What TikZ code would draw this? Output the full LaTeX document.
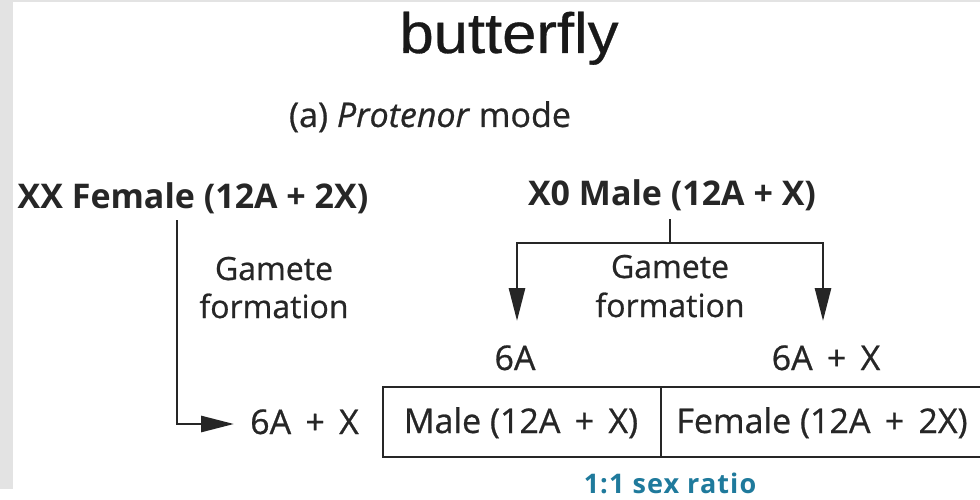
\documentclass[tikz,border=0pt]{standalone}
\usepackage{fontspec}
\setmainfont{Open Sans}
\newfontfamily\regfont[FakeBold=0.7]{Open Sans}
\newfontfamily\ratiofont[LetterSpace=4]{Open Sans}
\newfontfamily\titlefont[FakeBold=0.5]{Liberation Sans}
\usetikzlibrary{arrows.meta}
\definecolor{inkc}{HTML}{262626}
\definecolor{ratioc}{HTML}{1F7A9C}
\definecolor{stripc}{HTML}{E3E3E3}
\newcommand\pls{\hspace{0.42em}+\hspace{0.42em}}
\tikzset{
  lbl/.style={inner sep=0pt, anchor=base, text=inkc, font=\regfont\fontsize{34}{40}\selectfont},
  glbl/.style={lbl, font=\regfont\fontsize{32}{38}\selectfont},
  blbl/.style={lbl, font=\fontsize{34}{40}\selectfont\bfseries},
  conn/.style={draw=inkc, line width=2.8pt},
  arr/.style={conn, -{Triangle[length=33pt,width=16pt]}},
  boxline/.style={draw=inkc, line width=2.4pt}
}
\begin{document}
\begin{tikzpicture}[x=1pt,y=-1pt]
\useasboundingbox (0,0) rectangle (980,500);
\fill[white] (0,0) rectangle (980,500);
\fill[stripc] (0,0) rectangle (13,489);
\fill[stripc] (0,0) rectangle (980,2);

\node[inner sep=0pt, anchor=base, text=black!90, font=\titlefont\fontsize{57}{62}\selectfont] (title) at (509,53) {\scalebox{1.08}[1]{butterfly}};
\node[lbl] (mode) at (430,127) {(a) \textit{Protenor} mode};

\node[blbl] (xx) at (193,208) {XX Female (12A + 2X)};
\node[blbl] (xo) at (672,205) {X0 Male (12A + X)};

\node[glbl] (gl1) at (274,280) {Gamete};
\node[glbl] (gl2) at (274,318) {formation};
\node[glbl] (gr1) at (670,278) {Gamete};
\node[glbl] (gr2) at (670,317) {formation};

\node[lbl] (g6a) at (515,370) {6A};
\node[lbl] (g6ax) at (826,370) {6A\pls X};
\node[lbl, anchor=base west] (e6ax) at (250,434) {6A\pls X};

% Punnett box
\draw[boxline] (990,387) -- (383,387) -- (383,457) -- (990,457);
\draw[boxline] (661,387) -- (661,457);
\node[lbl] (mbox) at (521,433) {Male (12A\pls X)};
\node[lbl] (fbox) at (822,433) {Female (12A\pls 2X)};

\node[inner sep=0pt, anchor=base, text=ratioc, font=\ratiofont\fontsize{27}{31}\selectfont\bfseries] (ratio) at (670,493) {1:1 sex ratio};

% connectors
\coordinate (ftop) at (177,220);
\coordinate (fcorner) at (177,424);
\coordinate (ftip) at (234,424);
\draw[arr] (ftop) -- (fcorner) -- (ftip);

\coordinate (mtop) at (670,219);
\coordinate (msplit) at (670,243);
\coordinate (lcorner) at (517,243);
\coordinate (rcorner) at (823,243);
\coordinate (ltip) at (517,321);
\coordinate (rtip) at (823,321);
\draw[conn] (mtop) -- (msplit);
\draw[arr] (msplit) -- (lcorner) -- (ltip);
\draw[arr] (msplit) -- (rcorner) -- (rtip);
\end{tikzpicture}
\end{document}
